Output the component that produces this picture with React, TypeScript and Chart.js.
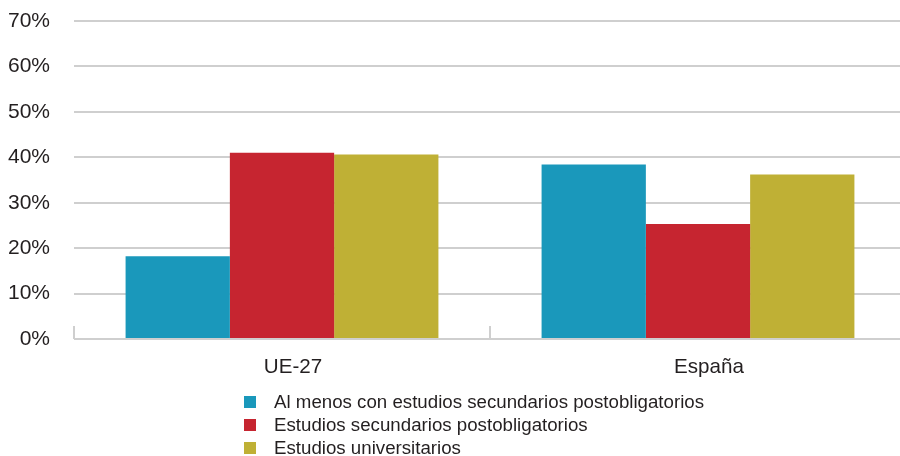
import React, { useEffect, useRef } from "react";
import { Chart, registerables } from "chart.js";

Chart.register(...registerables);

const categories = ["UE-27", "España"];
const seriesNames = [
  "Al menos con estudios secundarios postobligatorios",
  "Estudios secundarios postobligatorios",
  "Estudios universitarios",
];
const alMenosValues = [18.2, 38.4];
const secundariosValues = [41.0, 25.3];
const universitariosValues = [40.6, 36.2];
const yTicks = [0, 10, 20, 30, 40, 50, 60, 70];

const COLORS = ["#1a98bb", "#c62530", "#bfb035"];
const FONT = "'Liberation Sans', Arial, sans-serif";
const TEXT = "#231f20";
const GRID = "#cfcfcf";

const boundaryTicks = {
  id: "boundaryTicks",
  beforeDatasetsDraw(chart: any) {
    const x = chart.scales.x;
    const y = chart.scales.y;
    const ctx = chart.ctx;
    const base = y.getPixelForValue(0);
    ctx.save();
    ctx.strokeStyle = GRID;
    ctx.lineWidth = 2;
    for (let i = 0; i <= categories.length; i++) {
      const px = Math.round(x.getPixelForValue(i - 0.5));
      ctx.beginPath();
      ctx.moveTo(px, base);
      ctx.lineTo(px, base - 13);
      ctx.stroke();
    }
    ctx.restore();
  },
};

const customLegend = {
  id: "customLegend",
  afterDraw(chart: any) {
    const ctx = chart.ctx;
    ctx.save();
    ctx.font = `18.7px ${FONT}`;
    ctx.textBaseline = "middle";
    ctx.textAlign = "left";
    chart.data.datasets.forEach((ds: any, i: number) => {
      const cy = 402 + i * 23;
      ctx.fillStyle = ds.backgroundColor;
      ctx.fillRect(244, cy - 6, 12, 12);
      ctx.fillStyle = TEXT;
      ctx.fillText(ds.label, 274, cy + 1);
    });
    ctx.restore();
  },
};

export default function App() {
  const ref = useRef<HTMLCanvasElement | null>(null);
  useEffect(() => {
    document.body.style.margin = "0";
    document.body.style.overflow = "hidden";
    if (!ref.current) return;
    const chart = new Chart(ref.current, {
      type: "bar",
      data: {
        labels: categories,
        datasets: [
          { label: seriesNames[0], data: alMenosValues, backgroundColor: COLORS[0] },
          { label: seriesNames[1], data: secundariosValues, backgroundColor: COLORS[1] },
          { label: seriesNames[2], data: universitariosValues, backgroundColor: COLORS[2] },
        ],
      },
      options: {
        responsive: false,
        animation: false,
        layout: { padding: { top: 21, left: 0, right: 0, bottom: 0 } },
        datasets: { bar: { categoryPercentage: 0.752, barPercentage: 1 } },
        plugins: {
          legend: { display: false },
          tooltip: { enabled: false },
        },
        scales: {
          x: {
            grid: { display: false, drawTicks: false },
            border: { display: false },
            ticks: {
              padding: 16,
              labelOffset: 11,
              color: TEXT,
              font: { family: FONT, size: 20.6 },
            },
            afterFit: (s: any) => {
              s.height = 117;
            },
          },
          y: {
            min: 0,
            max: 70,
            afterBuildTicks: (s: any) => {
              s.ticks = yTicks.map((v) => ({ value: v }));
            },
            grid: { color: GRID, lineWidth: 2, drawTicks: false },
            border: { display: false },
            ticks: {
              padding: 24,
              color: TEXT,
              font: { family: FONT, size: 21 },
              callback: (v: any) => `${v}%`,
            },
            afterFit: (s: any) => {
              s.width = 74;
              s.paddingTop = 0;
              s.paddingBottom = 0;
            },
          },
        },
      },
      plugins: [boundaryTicks, customLegend],
    });
    return () => chart.destroy();
  }, []);
  return (
    <div style={{ position: "absolute", left: 0, top: 0, width: 906, height: 456 }}>
      <canvas ref={ref} width={906} height={456} style={{ display: "block" }} />
    </div>
  );
}
